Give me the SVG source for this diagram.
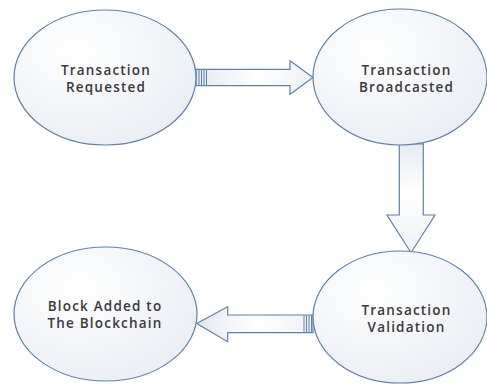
<svg xmlns="http://www.w3.org/2000/svg" width="487" height="384" viewBox="0 0 487 384">
<defs>
<radialGradient id="eg" cx="0.35" cy="0.3" r="0.8">
<stop offset="0" stop-color="#ffffff"/>
<stop offset="1" stop-color="#e9edf3"/>
</radialGradient>
<linearGradient id="ah" x1="0" y1="0" x2="1" y2="0">
<stop offset="0" stop-color="#e3e8ef"/>
<stop offset="0.5" stop-color="#ffffff"/>
<stop offset="1" stop-color="#eef1f5"/>
</linearGradient>
<linearGradient id="av" x1="0" y1="0" x2="0" y2="1">
<stop offset="0" stop-color="#e3e8ef"/>
<stop offset="0.5" stop-color="#ffffff"/>
<stop offset="1" stop-color="#eef1f5"/>
</linearGradient>
<style>
.n{fill:url(#eg);stroke:#5f82a8;stroke-width:1.2}
.t{font-family:"Open Sans",sans-serif;font-size:13.5px;font-weight:600;fill:#3a3a3a;text-anchor:middle;letter-spacing:1.2px}
.a{stroke:#5f82a8;stroke-width:1.2;stroke-linejoin:miter}
.s{stroke:#5f82a8;stroke-width:1}
</style>
</defs>
<rect width="487" height="384" fill="#fff"/>
<g id="connectors">
<g id="c1">
<path class="a" fill="url(#ah)" d="M196,69.3 H290 V60.7 L313,77.5 L290,94.3 V85.7 H196 Z"/>
<path class="s" d="M199,69.3 V85.7 M201.5,69.3 V85.7 M204,69.3 V85.7 M206.5,69.3 V85.7"/>
</g>
<g id="c2">
<path class="a" fill="url(#av)" d="M399.3,136 V215 H387 L411,252.7 L435,215 H423.3 V136 Z"/>
<path class="s" d="M399.3,139 H423.3 M399.3,141.5 H423.3 M399.3,144 H423.3"/>
</g>
<g id="c3">
<path class="a" fill="url(#ah)" d="M313,315 H227.7 V306.7 L196.7,323.5 L227.7,341.7 V332.7 H313 Z"/>
<path class="s" d="M304,315 V332.7 M306.5,315 V332.7 M309,315 V332.7 M311.5,315 V332.7"/>
</g>
</g>
<g id="n1">
<ellipse class="n" cx="105" cy="77.5" rx="91" ry="67.5"/>
<text class="t" x="106" y="74.5">Transaction</text>
<text class="t" x="106" y="91.5">Requested</text>
</g>
<g id="n2">
<ellipse class="n" cx="400" cy="77" rx="87" ry="68"/>
<text class="t" x="406.5" y="74.5">Transaction</text>
<text class="t" x="406.5" y="91.5">Broadcasted</text>
</g>
<g id="n3">
<ellipse class="n" cx="400" cy="317" rx="87" ry="66"/>
<text class="t" x="406.5" y="314.5">Transaction</text>
<text class="t" x="406.5" y="331.5">Validation</text>
</g>
<g id="n4">
<ellipse class="n" cx="105.5" cy="314" rx="91.5" ry="67"/>
<text class="t" x="105" y="311">Block Added to</text>
<text class="t" x="105" y="328">The Blockchain</text>
</g>
</svg>
